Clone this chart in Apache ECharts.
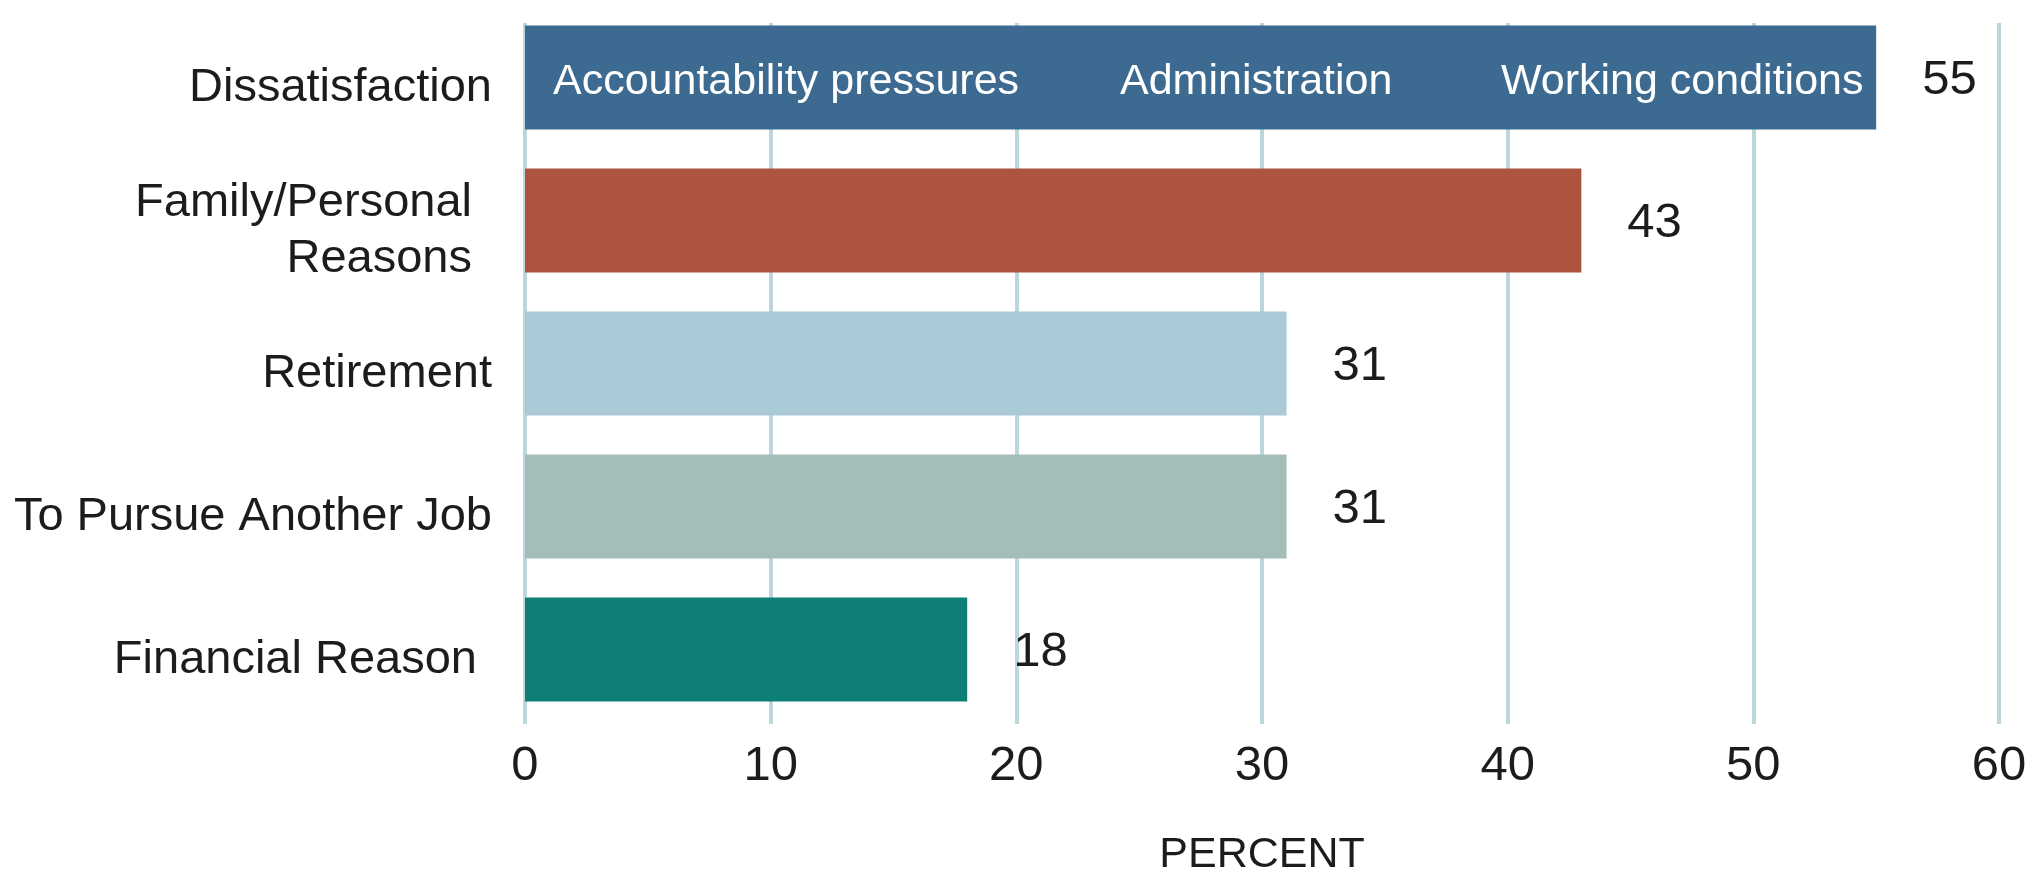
<!DOCTYPE html>
<html>
<head>
<meta charset="utf-8">
<script src="https://cdn.jsdelivr.net/npm/echarts@6/dist/echarts.min.js"></script>
<style>
  html, body { margin: 0; padding: 0; background: #ffffff; }
  #chart { width: 2042px; height: 879px; }
</style>
</head>
<body>
<div id="chart"></div>
<script>
// Reasons teachers give for leaving, in percent
const categories = ['Dissatisfaction', 'Family/Personal\nReasons', 'Retirement', 'To Pursue Another Job', 'Financial Reason'];
const percents = [55, 43, 31, 31, 18];
const barColors = ['#3d6a91', '#ad543e', '#a9cad6', '#a5bdb8', '#0e7f77'];
const dissatisfactionReasons = ['Accountability pressures', 'Administration', 'Working conditions'];
const percentTicks = [0, 10, 20, 30, 40, 50, 60];

const FONT = "'Liberation Sans', Arial, Helvetica, sans-serif";
const INK = '#1c1c1c';
const GRID_LINE = '#bcd6dc';

// extra right-hand inset for a few category labels
const labelInset = { 'Family/Personal\nReasons': 20, 'Financial Reason': 15 };

const axisMin = percentTicks[0];
const axisMax = percentTicks[percentTicks.length - 1];
const axisStep = percentTicks[1] - percentTicks[0];

const chart = echarts.init(document.getElementById('chart'), null, { renderer: 'canvas' });

const option = {
  backgroundColor: '#ffffff',
  animation: false,
  textStyle: { fontFamily: FONT },
  grid: [
    // bars
    { left: 525, right: 43, top: 6, height: 715, containLabel: false, outerBoundsMode: 'none' },
    // vertical rules + tick labels
    { left: 525, right: 43, top: 23, height: 701, containLabel: false, outerBoundsMode: 'none' }
  ],
  xAxis: [
    {
      gridIndex: 0, type: 'value', min: axisMin, max: axisMax, interval: axisStep,
      axisLine: { show: false }, axisTick: { show: false },
      axisLabel: { show: false }, splitLine: { show: false }
    },
    {
      gridIndex: 1, type: 'value', min: axisMin, max: axisMax, interval: axisStep,
      position: 'bottom',
      axisLine: { show: false }, axisTick: { show: false },
      splitLine: { show: true, lineStyle: { color: GRID_LINE, width: 4 } },
      axisLabel: {
        margin: 18, fontSize: 49, color: INK, fontFamily: FONT,
        showMinLabel: true, showMaxLabel: true
      },
      name: 'PERCENT',
      nameLocation: 'middle',
      nameGap: 110,
      nameTextStyle: { fontSize: 43, color: INK, fontFamily: FONT }
    }
  ],
  yAxis: [
    {
      gridIndex: 0, type: 'category', data: categories, inverse: true,
      axisLine: { show: false }, axisTick: { show: false }, splitLine: { show: false },
      axisLabel: {
        margin: 33,
        padding: [22, 0, 0, 0],
        fontSize: 47, lineHeight: 56, color: INK, fontFamily: FONT,
        formatter: (value) => {
          const key = labelInset[value] === 20 ? 'p20' : (labelInset[value] === 15 ? 'p15' : 'p0');
          return value.split('\n').map(line => `{${key}|${line}}`).join('\n');
        },
        rich: {
          p0: { fontSize: 47, lineHeight: 56, color: INK, fontFamily: FONT },
          p15: { fontSize: 47, lineHeight: 56, color: INK, fontFamily: FONT, padding: [0, 15, 0, 0] },
          p20: { fontSize: 47, lineHeight: 56, color: INK, fontFamily: FONT, padding: [0, 20, 0, 0] }
        }
      }
    },
    {
      gridIndex: 1, type: 'value', min: 0, max: 1, show: false
    }
  ],
  series: [
    {
      type: 'bar',
      xAxisIndex: 0, yAxisIndex: 0,
      barWidth: 104,
      data: percents.map((v, i) => ({ value: v, itemStyle: { color: barColors[i] } })),
      label: {
        show: true, position: 'right', distance: 46, offset: [0, 3],
        fontSize: 49, color: INK, fontFamily: FONT
      },
      z: 3
    },
    {
      // breakdown of the dissatisfaction bar, written inside it
      type: 'bar',
      xAxisIndex: 0, yAxisIndex: 0,
      barWidth: 104,
      barGap: '-100%',
      data: percents.map((v, i) => (i === 0 ? v : '-')),
      itemStyle: { color: 'rgba(0,0,0,0)' },
      label: {
        show: true, position: 'insideLeft', distance: 28, offset: [0, 5],
        formatter: () => `{a|${dissatisfactionReasons[0]}}{b|${dissatisfactionReasons[1]}}{c|${dissatisfactionReasons[2]}}`,
        rich: {
          a: { width: 567, fontSize: 43, color: '#ffffff', fontFamily: FONT },
          b: { width: 381, fontSize: 43, color: '#ffffff', fontFamily: FONT },
          c: { fontSize: 43, color: '#ffffff', fontFamily: FONT }
        }
      },
      silent: true,
      z: 4
    }
  ]
};

chart.setOption(option);
</script>
</body>
</html>
